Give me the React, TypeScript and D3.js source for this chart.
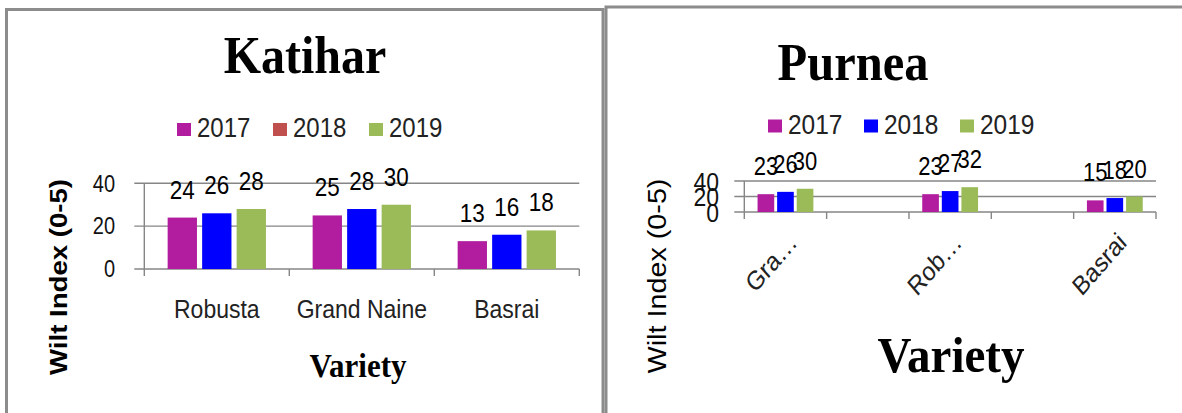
import React from "react";
import * as d3 from "d3";

// series + categories
const years = ["2017", "2018", "2019"];
const barColors = ["#B11D9E", "#0000FF", "#9BBB59"];
const katiharLegendColors = ["#B11D9E", "#C0504D", "#9BBB59"];
const purneaLegendColors = ["#B11D9E", "#0000FF", "#9BBB59"];

const katiharCategories = ["Robusta", "Grand Naine", "Basrai"];
const katihar2017 = [24, 25, 13];
const katihar2018 = [26, 28, 16];
const katihar2019 = [28, 30, 18];

const purneaCategories = ["Gra…", "", "Rob…", "", "Basrai"];
const purnea2017 = [23, null, 23, null, 15];
const purnea2018 = [26, null, 27, null, 18];
const purnea2019 = [30, null, 32, null, 20];

const yTicks = [0, 20, 40];
const yMax = 40;

const SANS = "'Liberation Sans', Arial, sans-serif";
const SERIF = "'Liberation Serif', 'Times New Roman', serif";
const GRID = "#868686";
// the source picture is a little stretched vertically
const SANS_SY = 1.15;
const SERIF_SY = 1.08;

type TxtProps = {
  x: number;
  y: number;
  size: number;
  anchor?: string;
  serif?: boolean;
  bold?: boolean;
  rotate?: number;
  dy?: string;
  fill?: string;
  children: React.ReactNode;
};

const Txt = ({ x, y, size, anchor = "start", serif, bold, rotate, dy, fill = "#000", children }: TxtProps) => (
  <text
    transform={`translate(${x},${y}) scale(1,${serif ? SERIF_SY : SANS_SY})${rotate ? ` rotate(${rotate})` : ""}`}
    textAnchor={anchor}
    dy={dy}
    fontFamily={serif ? SERIF : SANS}
    fontWeight={bold ? "bold" : "normal"}
    fontSize={size}
    fill={fill}
  >
    {children}
  </text>
);

type PanelProps = {
  title: string;
  categories: string[];
  series: (number | null)[][];
  legendColors: string[];
  frame: { x: number; y: number; w: number };
  plot: { x0: number; x1: number; yBase: number; yTop: number };
  titlePos: { x: number; y: number; size: number };
  legend: { x: number; y: number; size: number; step: number };
  tickLabel: { right: number; size: number };
  valueSize: number;
  catLabel: { y: number; size: number; rotate: boolean };
  yTitle: { x: number; y: number; size: number; bold: boolean };
  xTitle: { x: number; y: number; size: number };
};

const Panel = (p: PanelProps) => {
  const { plot } = p;
  const x = d3
    .scaleBand<number>()
    .domain(p.categories.map((_, i) => i))
    .range([plot.x0, plot.x1])
    .paddingInner(0)
    .paddingOuter(0);
  const bw = x.bandwidth();
  const groupW = bw * 0.678;
  const inner = d3
    .scaleBand<number>()
    .domain(years.map((_, i) => i))
    .range([(bw - groupW) / 2, (bw + groupW) / 2])
    .paddingInner(0.15)
    .paddingOuter(0);
  const y = d3.scaleLinear().domain([0, yMax]).range([plot.yBase, plot.yTop]);

  return (
    <g>
      <rect
        x={p.frame.x}
        y={p.frame.y}
        width={p.frame.w}
        height={600}
        fill="#fff"
        stroke="#8c8c8c"
        strokeWidth={3}
      />
      <Txt x={p.titlePos.x} y={p.titlePos.y} size={p.titlePos.size} anchor="middle" serif bold>
        {p.title}
      </Txt>

      {/* legend */}
      {years.map((yr, i) => (
        <g key={yr} transform={`translate(${p.legend.x + i * p.legend.step},${p.legend.y})`}>
          <rect x={0} y={0} width={14} height={13} fill={p.legendColors[i]} />
          <Txt x={20} y={14} size={p.legend.size} fill="#222">
            {yr}
          </Txt>
        </g>
      ))}

      {/* grid + y ticks */}
      {yTicks.map((t) => (
        <g key={t}>
          <line x1={plot.x0 - 10} x2={plot.x1} y1={y(t)} y2={y(t)} stroke={GRID} strokeWidth={1.4} />
          <Txt x={p.tickLabel.right} y={y(t)} dy="0.36em" anchor="end" size={p.tickLabel.size} fill="#111">
            {t}
          </Txt>
        </g>
      ))}
      <line x1={plot.x0} x2={plot.x0} y1={y(yMax)} y2={y(0) + 7} stroke={GRID} strokeWidth={1.4} />
      {p.categories.map((_, i) => (
        <line
          key={i}
          x1={x(i)! + bw}
          x2={x(i)! + bw}
          y1={y(0)}
          y2={y(0) + 7}
          stroke={GRID}
          strokeWidth={1.4}
        />
      ))}

      {/* bars */}
      {p.categories.map((_, ci) =>
        p.series.map((s, si) => {
          const v = s[ci];
          if (v == null) return null;
          const bx = x(ci)! + inner(si)!;
          return (
            <g key={`${ci}-${si}`}>
              <rect
                x={bx}
                y={y(v)}
                width={inner.bandwidth()}
                height={y(0) - y(v)}
                fill={barColors[si]}
              />
              <Txt x={bx + inner.bandwidth() / 2} y={y(v) - 19} anchor="middle" size={p.valueSize}>
                {v}
              </Txt>
            </g>
          );
        })
      )}

      {/* category labels */}
      {p.categories.map((c, i) => {
        const cx = x(i)! + bw / 2;
        if (!c) return null;
        return p.catLabel.rotate ? (
          <Txt key={i} x={cx + 13} y={p.catLabel.y} size={p.catLabel.size} anchor="end" rotate={-45} fill="#222">
            {c}
          </Txt>
        ) : (
          <Txt key={i} x={cx} y={p.catLabel.y} size={p.catLabel.size} anchor="middle" fill="#222">
            {c}
          </Txt>
        );
      })}

      {/* axis titles */}
      <Txt
        x={p.yTitle.x}
        y={p.yTitle.y}
        size={p.yTitle.size}
        anchor="middle"
        dy="0.35em"
        rotate={-90}
        bold={p.yTitle.bold}
      >
        Wilt Index (0-5)
      </Txt>
      <Txt x={p.xTitle.x} y={p.xTitle.y} size={p.xTitle.size} anchor="middle" serif bold>
        Variety
      </Txt>
    </g>
  );
};

export default function App() {
  return (
    <svg
      width={1182}
      height={413}
      viewBox="0 0 1182 413"
      style={{ position: "absolute", left: 0, top: 0, background: "#fff" }}
    >
      <rect width={1182} height={413} fill="#fff" />
      <Panel
        title="Katihar"
        categories={katiharCategories}
        series={[katihar2017, katihar2018, katihar2019]}
        legendColors={katiharLegendColors}
        frame={{ x: 6.5, y: 9.5, w: 596.5 }}
        plot={{ x0: 144.3, x1: 579.3, yBase: 269, yTop: 183.3 }}
        titlePos={{ x: 305, y: 73, size: 48 }}
        legend={{ x: 177, y: 123, size: 24, step: 96 }}
        tickLabel={{ right: 115, size: 20 }}
        valueSize={22.5}
        catLabel={{ y: 318, size: 23, rotate: false }}
        yTitle={{ x: 59, y: 277, size: 24, bold: true }}
        xTitle={{ x: 358, y: 376.5, size: 31 }}
      />
      <Panel
        title="Purnea"
        categories={purneaCategories}
        series={[purnea2017, purnea2018, purnea2019]}
        legendColors={purneaLegendColors}
        frame={{ x: 606, y: 7, w: 1400 }}
        plot={{ x0: 744.3, x1: 1156, yBase: 212, yTop: 181 }}
        titlePos={{ x: 853, y: 80, size: 48.5 }}
        legend={{ x: 768, y: 119.5, size: 24.5, step: 96 }}
        tickLabel={{ right: 719, size: 23 }}
        valueSize={22}
        catLabel={{ y: 244, size: 23, rotate: true }}
        yTitle={{ x: 657, y: 276, size: 25, bold: false }}
        xTitle={{ x: 951, y: 372, size: 47 }}
      />
    </svg>
  );
}
